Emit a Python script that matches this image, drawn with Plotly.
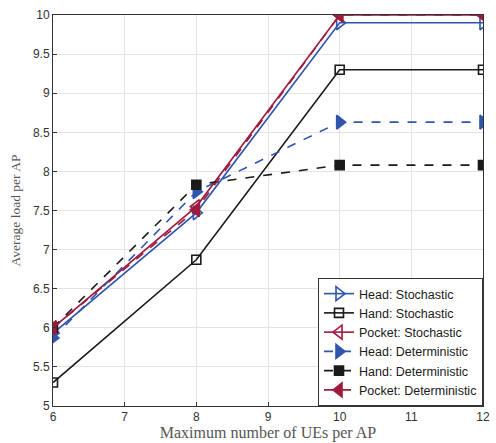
import plotly.graph_objects as go

x_vals = [6, 8, 10, 12]
head_stoch = [5.93, 7.47, 9.9, 9.9]
hand_stoch = [5.3, 6.87, 9.3, 9.3]
pocket_stoch = [6.0, 7.55, 10.0, 10.0]
head_det = [5.87, 7.74, 8.63, 8.63]
hand_det = [6.0, 7.83, 8.08, 8.08]
pocket_det = [6.0, 7.51, 10.0, 10.0]

names = ["Head: Stochastic", "Hand: Stochastic", "Pocket: Stochastic",
         "Head: Deterministic", "Hand: Deterministic", "Pocket: Deterministic"]

BLUE = "#2f55ad"
BLACK = "#1a1a1a"
RED = "#a01a3c"

series = [
    (head_stoch, names[0], BLUE, "solid", "triangle-right-open"),
    (hand_stoch, names[1], BLACK, "solid", "square-open"),
    (pocket_stoch, names[2], RED, "solid", "triangle-left-open"),
    (head_det, names[3], BLUE, "dash", "triangle-right"),
    (hand_det, names[4], BLACK, "dash", "square"),
    (pocket_det, names[5], RED, "dash", "triangle-left"),
]

fig = go.Figure()
for ys, nm, col, dash, sym in series:
    sz = 9 if "square" in sym else 12
    fig.add_trace(go.Scatter(
        x=x_vals, y=ys, name=nm, mode="lines+markers",
        line=dict(color=col, width=1.6, dash=dash),
        marker=dict(symbol=sym, size=sz, color=col,
                    line=dict(color=col, width=1.6)),
    ))

axis_common = dict(
    showgrid=True, gridcolor="#e3e3e3", gridwidth=1,
    showline=True, linecolor="#333333", linewidth=1, mirror=True,
    ticks="inside", ticklen=4, tickcolor="#333333",
    tickfont=dict(family="Liberation Sans, Arial, sans-serif", size=12, color="#333333"),
    zeroline=False, ticklabeloverflow="allow",
)

fig.update_layout(
    width=496, height=443,
    margin=dict(l=53, r=6, t=15, b=37),
    paper_bgcolor="white", plot_bgcolor="white",
    xaxis=dict(range=[6, 12], dtick=1,
               title=dict(text="Maximum number of UEs per AP", standoff=1,
                          font=dict(family="Liberation Serif, Times New Roman, serif", size=16, color="#555555")),
               **axis_common),
    yaxis=dict(range=[5, 10], dtick=0.5,
               title=dict(text="Average load per AP", standoff=9,
                          font=dict(family="Liberation Serif, Times New Roman, serif", size=13.5, color="#555555")),
               **axis_common),
    legend=dict(
        x=1, y=0, xanchor="right", yanchor="bottom",
        bgcolor="white", bordercolor="#333333", borderwidth=1,
        font=dict(family="Liberation Sans, Arial, sans-serif", size=12.5, color="#1a1a1a"),
        tracegroupgap=0, itemwidth=30,
    ),
    showlegend=True,
)

fig.write_html("out.html", config={"displayModeBar": False},
               post_script="document.body.style.margin='0px';")
